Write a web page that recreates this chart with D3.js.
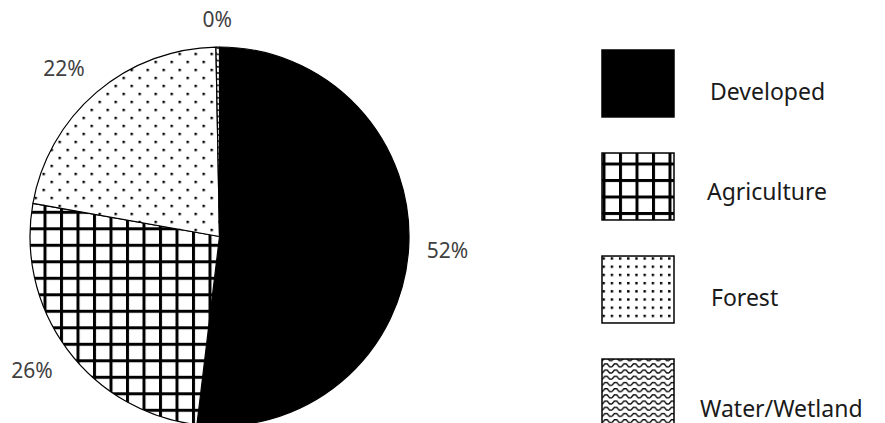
<!DOCTYPE html>
<html>
<head>
<meta charset="utf-8">
<script src="https://cdn.jsdelivr.net/npm/d3@7"></script>
<style>
  html, body { margin: 0; padding: 0; background: #fff; overflow: hidden; }
  svg { display: block; }
</style>
</head>
<body>
<svg id="chart" width="885" height="423"></svg>
<script>
// Land use shares (percent of total area)
const categories = ["Developed", "Agriculture", "Forest", "Water/Wetland"];
const shares = [51.9, 25.9, 21.9, 0.3];
const fillKinds = ["solid", "grid", "dots", "waves"];

// Legend label nudges (layout only)
const legendDx = [2, -1, 3, -8];
const legendDy = [0, -3, 0, 8];

const W = 885, H = 423;
const svg = d3.select("#chart");
const defs = svg.append("defs");

const cx = 219.5, cy = 236.5, R = 189.5;

// Hatch patterns in the style of office chart fills
function addPattern(id, kind, x0, y0, dense) {
  const p = defs.append("pattern")
    .attr("id", id)
    .attr("patternUnits", "userSpaceOnUse")
    .attr("x", x0).attr("y", y0);
  if (kind === "grid") {
    const s = 16.5, t = 3;
    p.attr("width", s).attr("height", s);
    p.append("rect").attr("width", s).attr("height", s).attr("fill", "#fff");
    p.append("rect").attr("width", t).attr("height", s).attr("fill", "#000");
    p.append("rect").attr("width", s).attr("height", t).attr("fill", "#000");
  } else if (kind === "dots") {
    const d = 2.4;
    if (dense) {
      const s = 8.2;
      p.attr("width", s).attr("height", s);
      p.append("rect").attr("width", s).attr("height", s).attr("fill", "#fff");
      p.append("rect").attr("width", d).attr("height", d).attr("fill", "#000");
    } else {
      const s = 16;
      p.attr("width", s).attr("height", s);
      p.append("rect").attr("width", s).attr("height", s).attr("fill", "#fff");
      p.append("rect").attr("width", d).attr("height", d).attr("fill", "#000");
      p.append("rect").attr("x", s / 2).attr("y", s / 2).attr("width", d).attr("height", d).attr("fill", "#000");
    }
  } else if (kind === "waves") {
    const w = 9.5, h = 6.2;
    p.attr("width", w).attr("height", h);
    p.append("rect").attr("width", w).attr("height", h).attr("fill", "#fff");
    p.append("path")
      .attr("d", `M0,${h * 0.7} L${w * 0.25},${h * 0.25} L${w * 0.5},${h * 0.25} L${w * 0.75},${h * 0.7} L${w},${h * 0.7}`)
      .attr("fill", "none")
      .attr("stroke", "#000")
      .attr("stroke-width", 1.3);
  }
  return `url(#${id})`;
}

function fillFor(kind, id, x0, y0, dense) {
  return kind === "solid" ? "#000" : addPattern(id, kind, x0, y0, dense);
}

// ---- Pie ----
const pie = d3.pie().sort(null).value(d => d).startAngle(0).endAngle(2 * Math.PI);
const slices = pie(shares);
const arc = d3.arc().innerRadius(0).outerRadius(R);

const g = svg.append("g").attr("transform", `translate(${cx},${cy})`);

const pieFills = fillKinds.map((k, i) => fillFor(k, `pie-fill-${i}`, -cx + 10.5, -cy + 12.8, false));

g.selectAll("path.slice")
  .data(slices)
  .join("path")
  .attr("class", "slice")
  .attr("d", arc)
  .attr("fill", (d, i) => pieFills[i])
  .attr("stroke", "#000")
  .attr("stroke-width", 1.2)
  .attr("stroke-linejoin", "round");

// ---- Percent labels, placed just outside the rim ----
const labelArc = d3.arc().innerRadius(R + 18).outerRadius(R + 18);
const pct = d3.format(".0%");
const clamp = v => Math.max(-1, Math.min(1, v));

const labels = g.selectAll("text.pct")
  .data(slices)
  .join("text")
  .attr("class", "pct")
  .attr("font-family", "'Noto Sans', 'Open Sans', sans-serif")
  .attr("font-size", 21)
  .attr("fill", "#404040")
  .attr("text-anchor", "middle")
  .text(d => pct(d.data / 100));

labels.each(function (d) {
  const t = d3.select(this);
  const bb = this.getBBox();
  const hw = bb.width / 2, hh = bb.height / 2 * 0.72;
  const a = (d.startAngle + d.endAngle) / 2;
  const [ax, ay] = labelArc.centroid(d);
  const x = ax + hw * clamp(3 * Math.sin(a));
  const y = ay - hh * clamp(3 * Math.cos(a));
  t.attr("x", x).attr("y", y).attr("dy", "0.36em");
});

// ---- Legend ----
const legendX = 602, swW = 72;
const yBand = d3.scaleBand()
  .domain(categories)
  .range([50, 426])
  .paddingInner(0.35)
  .paddingOuter(0);

const legend = svg.append("g").attr("class", "legend");

const items = legend.selectAll("g.item")
  .data(categories)
  .join("g")
  .attr("class", "item");

items.append("rect")
  .attr("x", legendX)
  .attr("y", d => yBand(d))
  .attr("width", swW)
  .attr("height", yBand.bandwidth())
  .attr("fill", (d, i) => fillFor(fillKinds[i], `legend-fill-${i}`,
      legendX + 0.5, yBand(d) + 9.5, true))
  .attr("stroke", "#000")
  .attr("stroke-width", 1.5);

items.append("text")
  .attr("x", (d, i) => legendX + 106 + legendDx[i])
  .attr("y", (d, i) => yBand(d) + 50 + legendDy[i])
  .attr("font-family", "'Noto Sans', 'Open Sans', sans-serif")
  .attr("font-size", 23)
  .attr("fill", "#1a1a1a")
  .text(d => d);
</script>
</body>
</html>
